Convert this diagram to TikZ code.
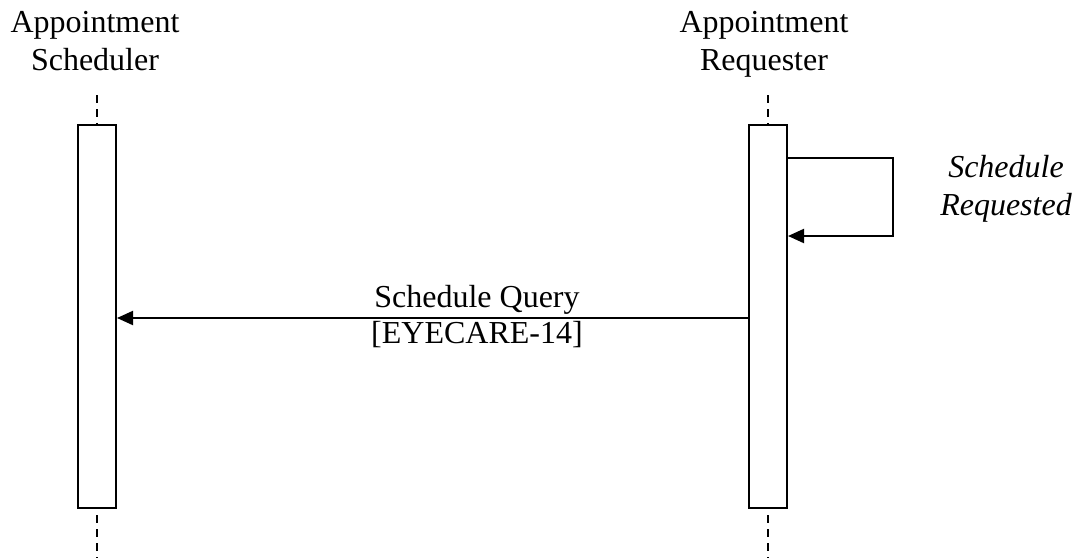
\documentclass[tikz,border=0pt]{standalone}
\usepackage{fontspec}
\setmainfont{Liberation Serif}
\usetikzlibrary{arrows.meta}
\begin{document}
\begin{tikzpicture}[x=0.5pt,y=-0.5pt,
  lbl/.style={font=\fontsize{16}{19}\selectfont, inner sep=0pt, anchor=base},
  ilbl/.style={lbl, font=\fontsize{16}{19}\selectfont\itshape},
  actbox/.style={draw, line width=1pt, fill=white, inner sep=0pt, minimum width=19pt, minimum height=191.5pt},
  life/.style={line width=0.8pt, dash pattern=on 4pt off 3pt},
  msg/.style={line width=1pt, -{Triangle[length=8pt,width=7pt]}}]
\useasboundingbox (0,0) rectangle (1077,558);
% headers
\node[lbl] (s1) at (95,32) {Appointment};
\node[lbl] (s2) at (95,70) {Scheduler};
\node[lbl] (r1) at (764,32) {Appointment};
\node[lbl] (r2) at (764,70) {Requester};
% lifelines
\coordinate (stop) at (97,95);
\coordinate (sbot) at (97,558);
\coordinate (rtop) at (768,95);
\coordinate (rbot) at (768,558);
\draw[life] (stop) -- (sbot);
\draw[life] (rtop) -- (rbot);
\node[actbox] (sbox) at (97,316.5) {};
\node[actbox] (rbox) at (768,316.5) {};
% self message
\coordinate (c1) at (893,158);
\coordinate (c2) at (893,236);
\draw[msg] (rbox.east |- c1) -- (c1) -- (c2) -- (rbox.east |- c2);
\node[ilbl] (q1) at (1006,177) {Schedule};
\node[ilbl] (q2) at (1006,215) {Requested};
% message
\coordinate (m) at (0,318);
\draw[msg] (rbox.west |- m) -- (sbox.east |- m);
\node[lbl] (m1) at (477,307) {Schedule Query};
\node[lbl] (m2) at (477,343) {[EYECARE-14]};
\end{tikzpicture}
\end{document}
